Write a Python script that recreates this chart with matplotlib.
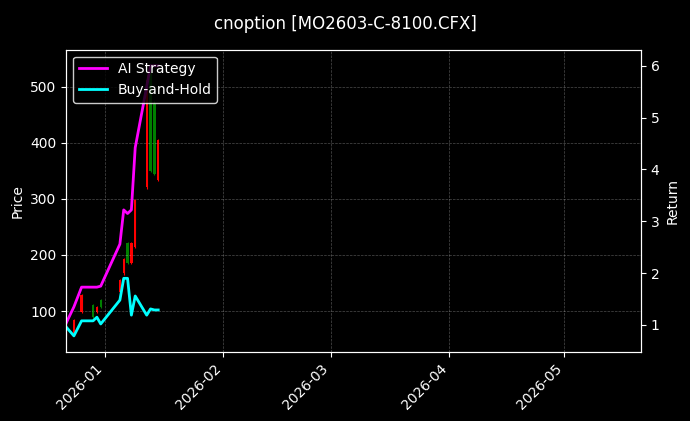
import matplotlib
matplotlib.use("Agg")
import matplotlib.pyplot as plt
import matplotlib.dates as mdates
import numpy as np
import pandas as pd

# candles
c_dates = ["2025-12-22", "2025-12-24", "2025-12-26", "2025-12-29", "2025-12-30", "2025-12-31",
           "2026-01-05", "2026-01-06", "2026-01-07", "2026-01-08", "2026-01-09",
           "2026-01-12", "2026-01-13", "2026-01-14", "2026-01-15"]
c_open = [65, 84, 129, 89, 107, 107, 155, 192, 186, 221, 298, 512, 350, 345, 405]
c_close = [60, 61, 98, 111, 98, 120, 134, 167, 221, 186, 214, 321, 530, 470, 334]
c_high = [75, 86, 131, 113, 109, 122, 157, 194, 223, 223, 300, 520, 535, 475, 407]
c_low = [55, 59, 96, 87, 96, 105, 132, 165, 184, 184, 212, 318, 348, 343, 332]

# returns
r_dates = ["2025-12-22", "2025-12-24", "2025-12-26", "2025-12-29", "2025-12-30", "2025-12-31",
           "2026-01-05", "2026-01-06", "2026-01-07", "2026-01-08", "2026-01-09",
           "2026-01-12", "2026-01-13", "2026-01-14", "2026-01-15"]
ai_ret = [1.04, 1.35, 1.73, 1.73, 1.73, 1.75, 2.56, 3.22, 3.15, 3.22, 4.42, 5.6, 6.0, 6.0, 6.0]
bh_ret = [0.96, 0.79, 1.08, 1.08, 1.15, 1.02, 1.48, 1.9, 1.9, 1.19, 1.56, 1.19, 1.31, 1.29, 1.29]

cd = pd.to_datetime(c_dates)
rd = pd.to_datetime(r_dates)

plt.style.use("dark_background")
fig, ax = plt.subplots(figsize=(6.9, 4.21), dpi=100)
fig.subplots_adjust(left=0.096, right=0.929, top=0.882, bottom=0.164)

for d, o, c, h, l in zip(cd, c_open, c_close, c_high, c_low):
    col = "red" if c < o else "green"
    x = mdates.date2num(d)
    ax.vlines(x, l, h, color=col, linewidth=0.8)
    ax.bar(x, abs(c - o), bottom=min(o, c), width=0.6, color=col)

ax.set_ylim(27, 566)
ax.set_xlim(pd.Timestamp("2025-12-22"), pd.Timestamp("2026-05-21"))
ax.set_ylabel("Price")
ax.grid(True, linestyle="--", linewidth=0.5, alpha=0.3)
ax.xaxis.set_major_locator(mdates.MonthLocator())
ax.xaxis.set_major_formatter(mdates.DateFormatter("%Y-%m"))
plt.setp(ax.get_xticklabels(), rotation=45, ha="right")

ax2 = ax.twinx()
ax2.plot(rd, ai_ret, color="magenta", linewidth=2, label="AI Strategy")
ax2.plot(rd, bh_ret, color="cyan", linewidth=2, label="Buy-and-Hold")
ax2.set_ylim(0.48, 6.31)
ax2.set_ylabel("Return")
leg = ax2.legend(loc="upper left")
leg.get_frame().set_edgecolor("white")

fig.suptitle("cnoption [MO2603-C-8100.CFX]", y=0.965)
fig.savefig("out.png")
